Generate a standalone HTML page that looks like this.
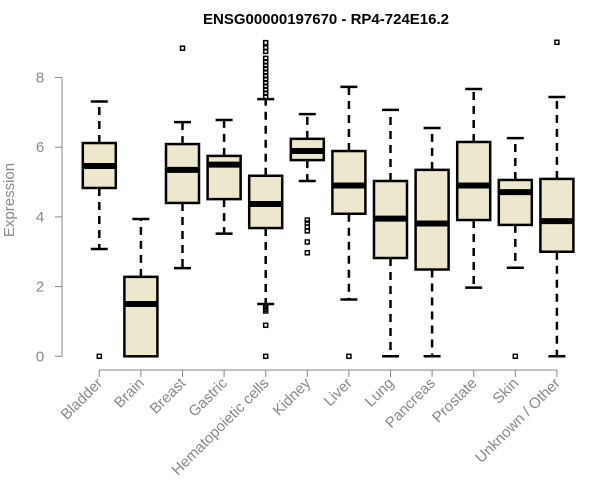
<!DOCTYPE html>
<html><head><meta charset="utf-8"><style>
body{margin:0;background:#fff;}
svg{display:block;font-family:"Liberation Sans",Arial,sans-serif;}
</style></head><body>
<svg id="chart" width="600" height="500">
<text x="326" y="24" text-anchor="middle" font-weight="bold" font-size="15">ENSG00000197670 - RP4-724E16.2</text>
<text transform="translate(14,200) rotate(-90)" text-anchor="middle" font-size="15" fill="#888">Expression</text>
<g id="axes"></g><g id="boxes"></g>
</svg>
<script>
const categories=["Bladder","Brain","Breast","Gastric","Hematopoietic cells","Kidney","Liver","Lung","Pancreas","Prostate","Skin","Unknown / Other"];
const whiskLow=[3.08,0,2.53,3.52,1.50,5.03,1.63,0,0,1.97,2.54,0];
const q1=[4.83,0,4.40,4.51,3.68,5.63,4.09,2.82,2.49,3.91,3.77,3.00];
const medians=[5.46,1.50,5.35,5.50,4.37,5.89,4.90,3.95,3.81,4.90,4.71,3.88];
const q3=[6.12,2.28,6.09,5.75,5.18,6.24,5.89,5.03,5.35,6.15,5.06,5.09];
const whiskHigh=[7.31,3.94,6.72,6.78,7.38,6.95,7.73,7.07,6.55,7.67,6.26,7.44];
const outliers=[[0],[],[8.84],[],[7.45,7.55,7.65,7.75,7.85,7.95,8.05,8.15,8.25,8.35,8.45,8.55,8.75,8.85,9.0,1.45,1.4,1.35,1.3,0.89,0],[3.91,3.82,3.71,3.6,3.28,2.97],[0],[],[],[],[0],[9.01]];
const yTicks=[0,2,4,6,8];
const NS="http://www.w3.org/2000/svg";
const svg=document.getElementById('chart');
const gA=document.getElementById('axes'),gB=document.getElementById('boxes');
const y=v=>356.3-v*34.85;
const x=i=>99.3+i*41.6;
function mk(t,a,p){const e=document.createElementNS(NS,t);for(const k in a)e.setAttribute(k,a[k]);p.appendChild(e);return e;}
const axc="#888";
const ya=mk('line',{x1:62,x2:62,y1:y(0),y2:y(8),stroke:axc},gA);


yTicks.forEach(v=>{
  mk('line',{x1:55,x2:62,y1:y(v),y2:y(v),stroke:axc},gA);
  const t=mk('text',{x:40,y:y(v)+5,'text-anchor':'middle','font-size':15,fill:axc},gA);
  t.textContent=v;
  
  
});
const xa=mk('line',{x1:x(0),x2:x(categories.length-1),y1:370,y2:370,stroke:axc},gA);


categories.forEach((c,i)=>{
  const cx=x(i),hw=16.5;
  mk('line',{x1:cx,x2:cx,y1:370,y2:377,stroke:axc},gA);
  const t=mk('text',{x:0,y:0,'text-anchor':'end','font-size':15,fill:axc,transform:`translate(${cx+4},${384}) rotate(-45)`},gA);
  t.textContent=c;
  
  
  const g=mk('g',{},gB);
  
  
  mk('line',{x1:cx,x2:cx,y1:y(q3[i]),y2:y(whiskHigh[i]),stroke:'#000','stroke-width':2.5,'stroke-dasharray':'8,6'},g);
  mk('line',{x1:cx,x2:cx,y1:y(q1[i]),y2:y(whiskLow[i]),stroke:'#000','stroke-width':2.5,'stroke-dasharray':'8,6'},g);
  mk('line',{x1:cx-8.5,x2:cx+8.5,y1:y(whiskHigh[i]),y2:y(whiskHigh[i]),stroke:'#000','stroke-width':2.5},g);
  mk('line',{x1:cx-8.5,x2:cx+8.5,y1:y(whiskLow[i]),y2:y(whiskLow[i]),stroke:'#000','stroke-width':2.5},g);
  mk('rect',{x:cx-hw,y:y(q3[i]),width:2*hw,height:y(q1[i])-y(q3[i]),fill:'#ede7cd',stroke:'#000','stroke-width':2.5},g);
  mk('line',{x1:cx-hw,x2:cx+hw,y1:y(medians[i]),y2:y(medians[i]),stroke:'#000','stroke-width':6},g);
  outliers[i].forEach(v=>{
    const o=mk('rect',{x:cx-2,y:y(v)-2,width:4,height:4,fill:'none',stroke:'#000','stroke-width':1.5},g);
    
    
  });
});
</script>
</body></html>
